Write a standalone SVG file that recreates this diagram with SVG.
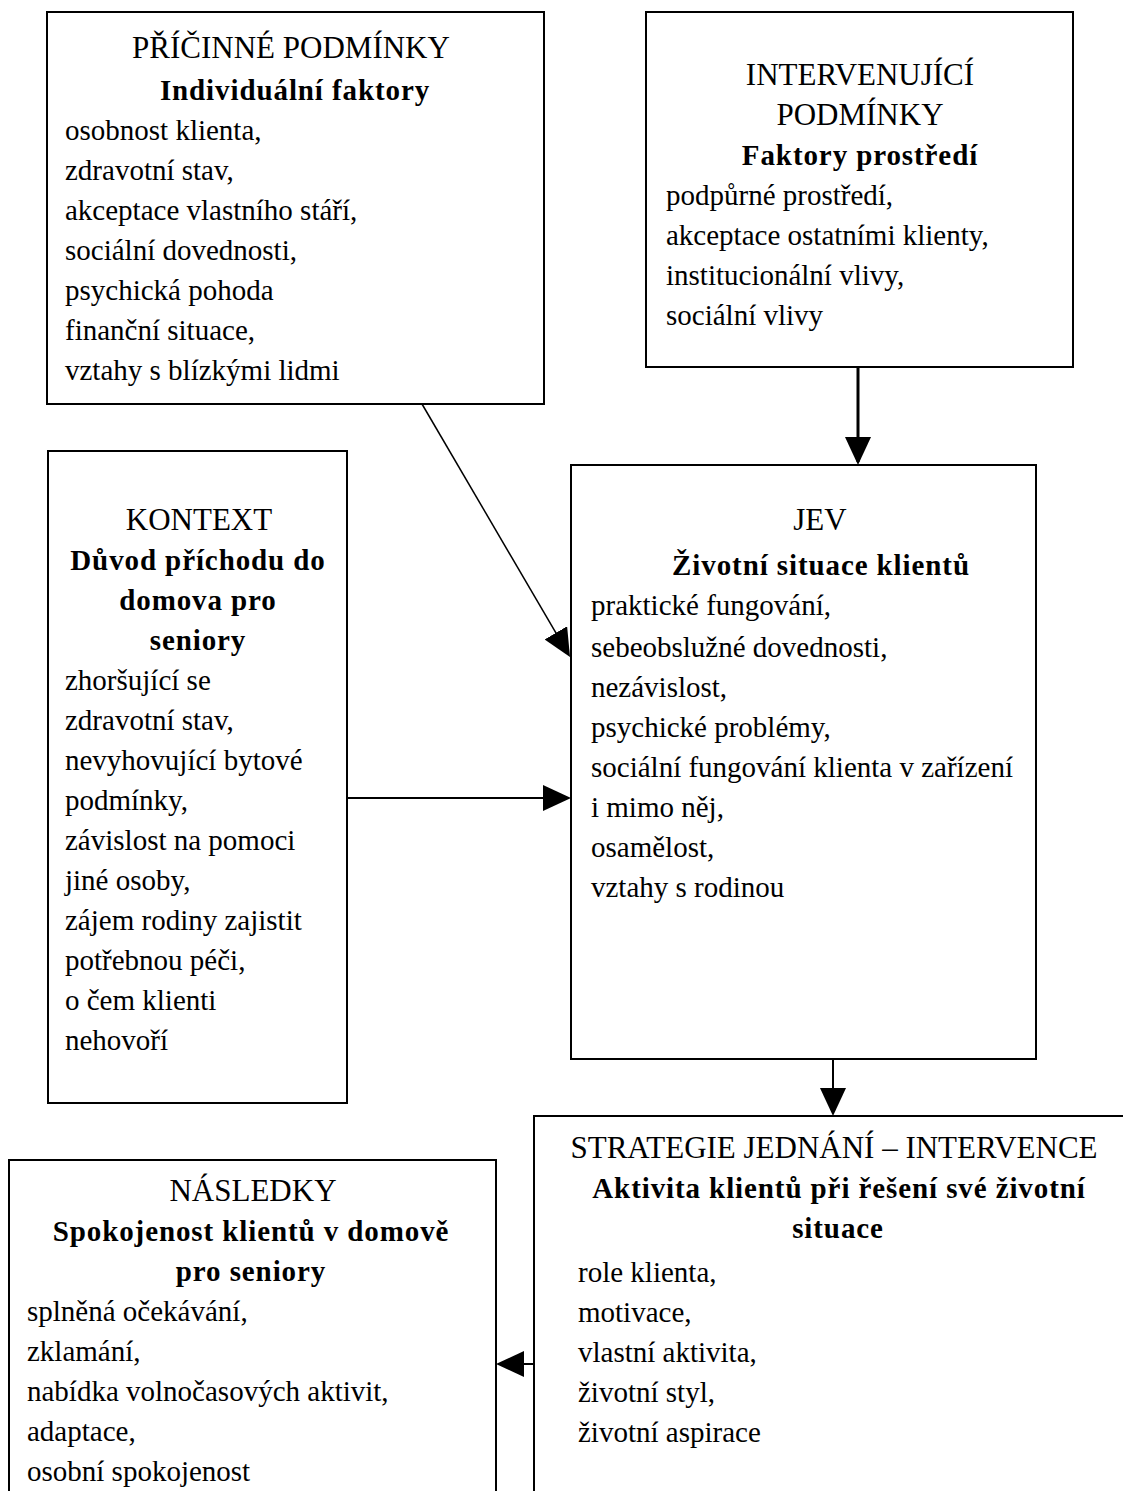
<svg xmlns="http://www.w3.org/2000/svg" width="1123" height="1491" viewBox="0 0 1123 1491">
<defs>
<style>
.box{fill:#fff;stroke:#000;stroke-width:2}
text{font-family:"Liberation Serif","Times New Roman",serif;font-size:29px;fill:#000}
.t{text-anchor:middle;font-size:31px}
.b{font-weight:bold;text-anchor:middle;letter-spacing:0.9px}
.c{fill:none;stroke:#000;stroke-width:2}
</style>
<marker id="ah" viewBox="0 0 28 26" refX="25" refY="13" markerWidth="28" markerHeight="26" markerUnits="userSpaceOnUse" orient="auto">
<path d="M0,0 L28,13 L0,26 z" fill="#000"/>
</marker>
</defs>
<rect width="1123" height="1491" fill="#fff"/>

<g id="pricinne">
<rect class="box" x="47" y="12" width="497" height="392"/>
<text class="t" x="291" y="58">PŘÍČINNÉ PODMÍNKY</text>
<text class="b" x="295" y="100">Individuální faktory</text>
<text x="65" y="140">osobnost klienta,</text>
<text x="65" y="180">zdravotní stav,</text>
<text x="65" y="220">akceptace vlastního stáří,</text>
<text x="65" y="260">sociální dovednosti,</text>
<text x="65" y="300">psychická pohoda</text>
<text x="65" y="340">finanční situace,</text>
<text x="65" y="380">vztahy s blízkými lidmi</text>
</g>

<g id="intervenujici">
<rect class="box" x="646" y="12" width="427" height="355"/>
<text class="t" x="860" y="85">INTERVENUJÍCÍ</text>
<text class="t" x="860" y="125">PODMÍNKY</text>
<text class="b" x="860" y="165">Faktory prostředí</text>
<text x="666" y="205">podpůrné prostředí,</text>
<text x="666" y="245">akceptace ostatními klienty,</text>
<text x="666" y="285">institucionální vlivy,</text>
<text x="666" y="325">sociální vlivy</text>
</g>

<g id="kontext">
<rect class="box" x="48" y="451" width="299" height="652"/>
<text class="t" x="199" y="530">KONTEXT</text>
<text class="b" x="198" y="570">Důvod příchodu do</text>
<text class="b" x="198" y="610">domova pro</text>
<text class="b" x="198" y="650">seniory</text>
<text x="65" y="690">zhoršující se</text>
<text x="65" y="730">zdravotní stav,</text>
<text x="65" y="770">nevyhovující bytové</text>
<text x="65" y="810">podmínky,</text>
<text x="65" y="850">závislost na pomoci</text>
<text x="65" y="890">jiné osoby,</text>
<text x="65" y="930">zájem rodiny zajistit</text>
<text x="65" y="970">potřebnou péči,</text>
<text x="65" y="1010">o čem klienti</text>
<text x="65" y="1050">nehovoří</text>
</g>

<g id="jev">
<rect class="box" x="571" y="465" width="465" height="594"/>
<text class="t" x="820" y="530">JEV</text>
<text class="b" x="821" y="575">Životní situace klientů</text>
<text x="591" y="615">praktické fungování,</text>
<text x="591" y="657">sebeobslužné dovednosti,</text>
<text x="591" y="697">nezávislost,</text>
<text x="591" y="737">psychické problémy,</text>
<text x="591" y="777">sociální fungování klienta v zařízení</text>
<text x="591" y="817">i mimo něj,</text>
<text x="591" y="857">osamělost,</text>
<text x="591" y="897">vztahy s rodinou</text>
</g>

<g id="strategie">
<rect class="box" x="534" y="1116" width="600" height="400"/>
<text class="t" x="834" y="1158">STRATEGIE JEDNÁNÍ – INTERVENCE</text>
<text class="b" x="839" y="1198">Aktivita klientů při řešení své životní</text>
<text class="b" x="838" y="1238">situace</text>
<text x="578" y="1282">role klienta,</text>
<text x="578" y="1322">motivace,</text>
<text x="578" y="1362">vlastní aktivita,</text>
<text x="578" y="1402">životní styl,</text>
<text x="578" y="1442">životní aspirace</text>
</g>

<g id="nasledky">
<rect class="box" x="9" y="1160" width="487" height="400"/>
<text class="t" x="253" y="1201">NÁSLEDKY</text>
<text class="b" x="251" y="1241">Spokojenost klientů v domově</text>
<text class="b" x="251" y="1281">pro seniory</text>
<text x="27" y="1321">splněná očekávání,</text>
<text x="27" y="1361">zklamání,</text>
<text x="27" y="1401">nabídka volnočasových aktivit,</text>
<text x="27" y="1441">adaptace,</text>
<text x="27" y="1481">osobní spokojenost</text>
</g>

<g id="connectors">
<path class="c" style="stroke-width:1.5" d="M422,404 L568.5,654.4" marker-end="url(#ah)"/>
<path class="c" style="stroke-width:3" d="M858,367 L858,462" marker-end="url(#ah)"/>
<path class="c" d="M347,798 L568,798" marker-end="url(#ah)"/>
<path class="c" d="M833,1059 L833,1113" marker-end="url(#ah)"/>
<path class="c" d="M534,1364 L499,1364" marker-end="url(#ah)"/>
</g>
</svg>
